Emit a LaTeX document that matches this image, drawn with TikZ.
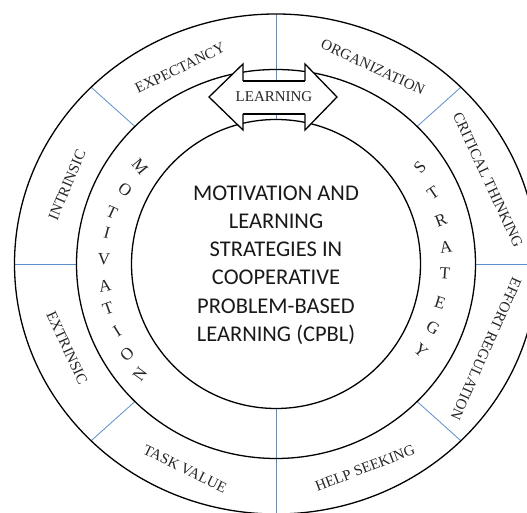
\documentclass[tikz,border=0pt]{standalone}
\usepackage{fontspec}
\setmainfont{Liberation Serif}
\newfontfamily\centerfont{Carlito}
\usetikzlibrary{calc}
\definecolor{divblue}{RGB}{91,142,206}
\begin{document}
\begin{tikzpicture}[x=1pt,y=1pt,
  ring/.style={line width=1.3pt, black},
  divider/.style={line width=0.8pt, divblue},
  lab/.style={font=\fontsize{15}{15}\selectfont, text=black!85, inner sep=0pt},
  ltr/.style={font=\fontsize{17}{17}\selectfont, text=black!85, inner sep=0pt},
  arrowline/.style={line width=1.3pt, black, line join=miter}]
\useasboundingbox (0,0) rectangle (527,513);
\coordinate (c) at (276,249);
% divider coordinates
\foreach \a in {0,45,90,135,180,225,270,315}{
  \coordinate (m\a) at ($(c)+(\a:199.5 and 194.5)$);
  \coordinate (o\a) at ($(c)+(\a:261.5 and 250)$);
}
\coordinate (i90) at ($(c)+(90:144.5)$);
\coordinate (i270) at ($(c)+(270:144.5)$);
\foreach \a in {0,45,135,180,225,315}{
  \draw[divider] (m\a) -- (o\a);
}
\draw[divider] (i90) -- (o90);
\draw[divider] (i270) -- (o270);
% rings
\draw[ring] (c) ellipse [x radius=261.5, y radius=250];
\draw[ring] (c) ellipse [x radius=199.5, y radius=194.5];
\draw[ring] (c) circle [radius=144.5];
% arrow
\coordinate (lt) at (243,449); \coordinate (ltip) at (209,416); \coordinate (lb) at (243,383);
\coordinate (rt) at (305,449); \coordinate (rtip) at (337,416); \coordinate (rb) at (305,383);
\coordinate (lu) at (243,432); \coordinate (ll) at (243,399);
\coordinate (ru) at (305,432); \coordinate (rl) at (305,399);
\fill[white] (lt) -- (ltip) -- (lb) -- cycle;
\fill[white] (rt) -- (rtip) -- (rb) -- cycle;
\fill[white] (lu) rectangle (rl);
\draw[arrowline] (lu) -- (lt) -- (ltip) -- (lb) -- (ll);
\draw[arrowline] (ru) -- (rt) -- (rtip) -- (rb) -- (rl);
\draw[arrowline] (lu) -- (ru);
\draw[arrowline] (ll) -- (rl);
\node[lab] (learning) at (274,416) {LEARNING};
% outer labels
\node[lab, rotate=26] (expectancy) at (180,445) {EXPECTANCY};
\node[lab, rotate=-25] (organization) at (373,446) {ORGANIZATION};
\node[lab, rotate=67] (intrinsic) at (67,328) {INTRINSIC};
\node[lab, rotate=-65] (extrinsic) at (67,165) {EXTRINSIC};
\node[lab, rotate=-26] (taskvalue) at (185,44) {TASK VALUE};
\node[lab, rotate=21] (helpseeking) at (365,45) {HELP SEEKING};
\node[lab, rotate=246] (effort) at (486,164) {EFFORT REGULATION};
\node[lab, rotate=-65] (critical) at (488,333) {CRITICAL THINKING};
% MOTIVATION
\node[ltr, rotate=-50] (mot1) at (140,346) {M};
\node[ltr, rotate=-37] (mot2) at (125,323) {O};
\node[ltr, rotate=-24] (mot3) at (112,300) {T};
\node[ltr, rotate=-15] (mot4) at (107,280) {I};
\node[ltr, rotate=-2] (mot5) at (104,254) {V};
\node[ltr, rotate=10] (mot6) at (105,227) {A};
\node[ltr, rotate=20] (mot7) at (108,205) {T};
\node[ltr, rotate=32] (mot8) at (117,182) {I};
\node[ltr, rotate=43] (mot9) at (127,159) {O};
\node[ltr, rotate=54] (mot10) at (140,139) {N};
% STRATEGY
\node[ltr, rotate=48] (str1) at (420,346) {S};
\node[ltr, rotate=34] (str2) at (433,320) {T};
\node[ltr, rotate=21] (str3) at (441,293) {R};
\node[ltr, rotate=8] (str4) at (446,266) {A};
\node[ltr, rotate=-4] (str5) at (445,240) {T};
\node[ltr, rotate=-18] (str6) at (440,210) {E};
\node[ltr, rotate=-31] (str7) at (433,185) {G};
\node[ltr, rotate=-43] (str8) at (421,162) {Y};
% centre
\node[font=\centerfont\fontsize{22.5}{28.2}\selectfont, align=center, text=black!90, inner sep=0pt] (title) at (276,248)
  {MOTIVATION AND\\LEARNING\\STRATEGIES IN\\COOPERATIVE\\PROBLEM-BASED\\LEARNING (CPBL)};
\end{tikzpicture}
\end{document}
